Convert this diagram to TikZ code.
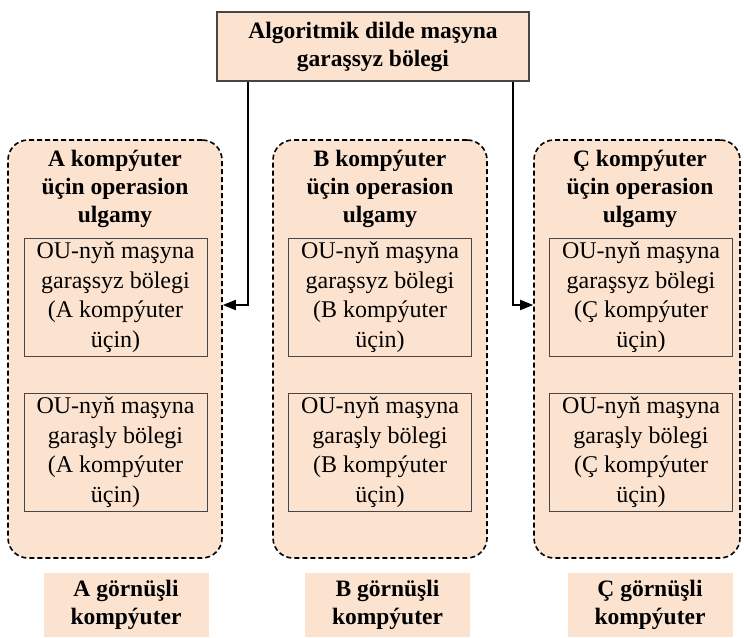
\documentclass[tikz,border=0pt]{standalone}
\usepackage{fontspec}
\setmainfont{Liberation Serif}
\usetikzlibrary{arrows.meta}
\definecolor{peach}{RGB}{252,227,208}
\definecolor{edgegray}{RGB}{70,70,70}
\begin{document}
\begin{tikzpicture}[x=1pt,y=-1pt,
  txt/.style={font=\fontsize{24}{29.5}\selectfont},
  bold/.style={font=\bfseries\fontsize{23.5}{28}\selectfont},
  topbox/.style={bold,draw=edgegray,line width=1.3pt,fill=peach,
    minimum width=312pt,minimum height=69pt,align=center,inner sep=0pt},
  osbox/.style={draw=black,line width=1.6pt,dash pattern=on 5pt off 3pt,
    rounded corners=20pt,fill=peach,minimum width=214pt,minimum height=418pt,inner sep=0pt},
  heading/.style={bold,align=center,inner sep=0pt},
  partbox/.style={txt,draw=edgegray,line width=1pt,fill=peach,
    minimum width=183pt,minimum height=118pt,align=center,inner sep=0pt},
  typelabel/.style={bold,fill=peach,minimum width=165pt,minimum height=64pt,
    align=center,inner sep=0pt},
  conn/.style={line width=1.8pt,-{Triangle[length=13pt,width=10pt]}}
]
\useasboundingbox (0,0) rectangle (744,637);

% machine-independent part of the algorithm
\node[topbox] (top) at (373,46.5) {Algoritmik dilde maşyna\\garaşsyz bölegi};

% operating systems of the three computers
\node[osbox] (osA) at (115,349) {};
\node[osbox] (osB) at (380,349) {};
\node[osbox,minimum width=206pt] (osC) at (637,349) {};

\node[heading] (hA) at (115,189) {A kompýuter\\üçin operasion\\ulgamy};
\node[heading] (hB) at (380,189) {B kompýuter\\üçin operasion\\ulgamy};
\node[heading] (hC) at (640,189) {Ç kompýuter\\üçin operasion\\ulgamy};

% machine-independent and machine-dependent parts
\node[partbox] (a1) at (115.5,297) {OU-nyň maşyna\\garaşsyz bölegi\\(A kompýuter\\üçin)};
\node[partbox] (a2) at (115.5,452) {OU-nyň maşyna\\garaşly bölegi\\(A kompýuter\\üçin)};
\node[partbox] (b1) at (380,297) {OU-nyň maşyna\\garaşsyz bölegi\\(B kompýuter\\üçin)};
\node[partbox] (b2) at (380,452) {OU-nyň maşyna\\garaşly bölegi\\(B kompýuter\\üçin)};
\node[partbox] (c1) at (641,297) {OU-nyň maşyna\\garaşsyz bölegi\\(Ç kompýuter\\üçin)};
\node[partbox] (c2) at (641,452) {OU-nyň maşyna\\garaşly bölegi\\(Ç kompýuter\\üçin)};

% computer types
\node[typelabel] (tA) at (126,605) {A görnüşli\\kompýuter};
\node[typelabel] (tB) at (387.5,605) {B görnüşli\\kompýuter};
\node[typelabel] (tC) at (650,605) {Ç görnüşli\\kompýuter};

% connectors from the algorithm to the outer systems
\draw[conn] ([xshift=32pt]top.south west) |- ([yshift=44pt]osA.east);
\draw[conn] ([xshift=-17pt]top.south east) |- ([yshift=44pt]osC.west);
\end{tikzpicture}
\end{document}
